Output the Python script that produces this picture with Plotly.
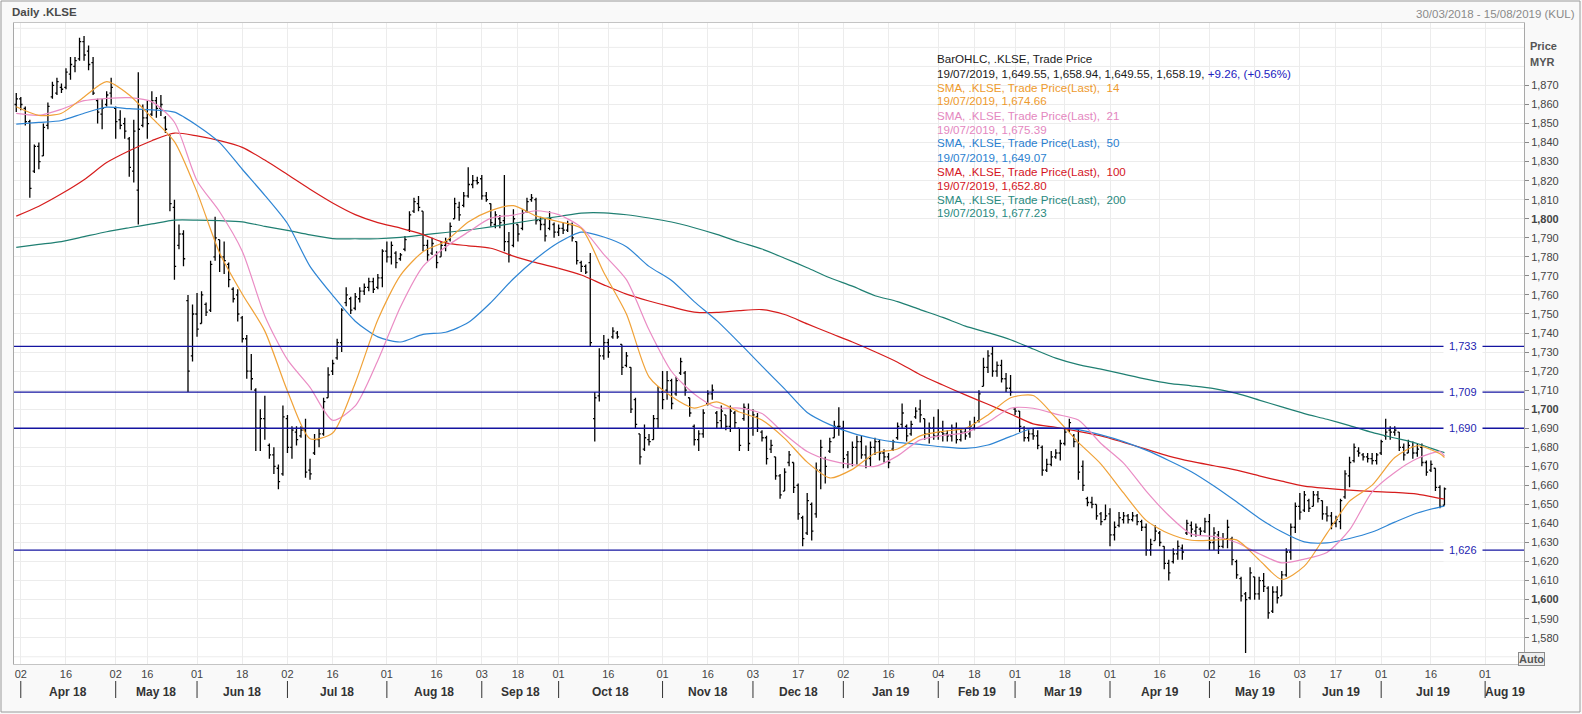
import pandas as pd
import plotly.graph_objects as go

# ---------------- data ----------------
holidays = ["2018-05-01", "2018-05-09", "2018-05-10", "2018-05-11", "2018-05-29", "2018-06-15",
            "2018-08-22", "2018-08-31", "2018-09-10", "2018-09-11", "2018-09-17", "2018-11-06",
            "2018-11-20", "2018-12-25", "2019-01-01", "2019-01-21", "2019-02-01", "2019-02-05",
            "2019-02-06", "2019-05-01", "2019-05-20", "2019-05-22", "2019-06-05", "2019-06-06"]

opens = [1860,1863,1858,1851,1825,1838,1833,1849,1864,1866,1869,1869,1876,1880,1884,1893,1888,1882,1862,1855,
         1860,1866,1858,1852,1850,1842,1825,1815,1849,1853,1855,1862,1858,1853,1844,1806,1786,1792,1757,1728,
         1750,1745,1755,1752,1780,1789,1780,1776,1763,1760,1748,1737,1720,1710,1690,1695,1681,1676,1669,1666,
         1695,1680,1688,1686,1689,1668,1677,1684,1687,1706,1720,1727,1735,1756,1758,1753,1758,1762,1764,1767,
         1764,1769,1783,1780,1782,1779,1784,1794,1804,1808,1804,1786,1782,1781,1780,1786,1789,1800,1806,1807,
         1812,1818,1820,1821,1812,1808,1797,1800,1799,1788,1786,1797,1795,1804,1810,1810,1799,1797,1795,1797,
         1793,1795,1794,1797,1788,1777,1775,1777,1695,1707,1728,1735,1738,1740,1734,1723,1722,1705,1687,1679,
         1684,1684,1695,1709,1710,1715,1708,1719,1719,1706,1691,1684,1687,1703,1708,1698,1694,1697,1691,1698,
         1690,1695,1700,1690,1696,1688,1685,1679,1675,1665,1657,1672,1672,1660,1643,1635,1650,1645,1668,1674,
         1678,1685,1691,1690,1676,1671,1680,1683,1676,1674,1680,1683,1677,1675,1679,1685,1692,1691,1687,1696,
         1700,1695,1687,1690,1686,1688,1687,1686,1690,1684,1688,1687,1690,1694,1712,1722,1729,1720,1723,1716,
         1711,1700,1699,1690,1685,1687,1686,1680,1668,1671,1675,1677,1682,1689,1686,1683,1670,1653,1651,1650,
         1645,1642,1645,1634,1639,1642,1644,1642,1644,1641,1638,1626,1631,1635,1628,1619,1620,1624,1627,1635,
         1639,1636,1637,1636,1641,1630,1634,1628,1632,1632,1620,1611,1603,1601,1612,1603,1610,1606,1594,1604,
         1602,1613,1625,1638,1649,1647,1652,1649,1655,1652,1645,1644,1640,1641,1654,1665,1673,1678,1676,1675,
         1674,1673,1677,1686,1689,1688,1688,1680,1677,1680,1677,1680,1672,1668,1669,1659,1649.55]
highs = [1866,1864,1859,1852,1839,1840,1850,1861,1872,1874,1871,1879,1885,1885,1895,1896,1891,1885,1863,1863,
         1867,1874,1859,1857,1853,1843,1852,1877,1860,1862,1867,1864,1865,1854,1844,1810,1797,1794,1760,1755,
         1761,1762,1756,1778,1801,1789,1788,1777,1764,1763,1749,1739,1729,1711,1700,1707,1682,1680,1671,1702,
         1697,1691,1691,1691,1695,1674,1687,1690,1706,1722,1726,1737,1753,1764,1759,1761,1764,1766,1769,1769,
         1771,1784,1788,1788,1783,1782,1791,1804,1811,1812,1804,1789,1790,1783,1788,1790,1798,1811,1809,1814,
         1827,1823,1822,1823,1814,1808,1804,1802,1823,1793,1805,1797,1805,1811,1813,1811,1801,1800,1804,1798,
         1797,1798,1799,1798,1788,1778,1776,1782,1709,1732,1739,1737,1743,1741,1734,1730,1722,1706,1687,1692,
         1687,1697,1712,1720,1720,1716,1717,1727,1720,1706,1692,1689,1700,1710,1713,1699,1702,1697,1702,1699,
         1690,1703,1703,1700,1698,1689,1686,1684,1675,1666,1669,1678,1672,1661,1644,1656,1651,1672,1684,1675,
         1685,1694,1701,1694,1678,1683,1686,1686,1681,1683,1685,1684,1679,1677,1684,1693,1703,1692,1694,1701,
         1705,1695,1693,1696,1700,1694,1689,1692,1693,1690,1690,1694,1696,1710,1727,1731,1733,1725,1726,1719,
         1718,1701,1699,1691,1689,1690,1689,1681,1674,1678,1679,1684,1690,1695,1687,1690,1673,1654,1654,1650,
         1646,1650,1648,1641,1646,1646,1645,1646,1645,1642,1640,1632,1639,1636,1628,1621,1627,1631,1629,1642,
         1641,1640,1638,1643,1645,1638,1636,1635,1642,1633,1621,1612,1604,1617,1612,1612,1614,1607,1607,1607,
         1615,1627,1640,1651,1656,1657,1653,1657,1657,1652,1649,1646,1644,1653,1668,1675,1682,1680,1677,1677,
         1677,1677,1684,1695,1691,1691,1688,1682,1684,1683,1682,1682,1673,1673,1669,1660,1658.94]
lows = [1856,1857,1849,1811,1824,1826,1833,1847,1863,1865,1866,1868,1873,1877,1883,1883,1878,1865,1850,1847,
        1859,1860,1842,1847,1842,1822,1819,1797,1848,1842,1854,1853,1854,1845,1804,1768,1784,1775,1709,1725,
        1738,1745,1749,1751,1778,1772,1771,1764,1756,1746,1735,1716,1710,1678,1678,1684,1674,1666,1658,1665,
        1677,1674,1681,1685,1664,1663,1676,1680,1686,1706,1718,1726,1730,1754,1750,1752,1756,1760,1762,1761,
        1763,1764,1777,1776,1774,1778,1783,1793,1803,1804,1783,1778,1781,1774,1780,1783,1788,1800,1799,1806,
        1811,1816,1818,1810,1809,1796,1795,1795,1783,1777,1785,1788,1794,1803,1809,1797,1794,1788,1794,1790,
        1791,1792,1793,1788,1776,1772,1771,1733,1683,1704,1726,1727,1737,1737,1718,1722,1698,1690,1671,1678,
        1681,1684,1690,1700,1705,1700,1707,1718,1707,1696,1681,1678,1685,1702,1705,1690,1690,1689,1688,1690,
        1678,1694,1678,1686,1688,1683,1671,1677,1663,1653,1657,1670,1656,1642,1628,1634,1631,1643,1658,1661,
        1677,1685,1686,1669,1669,1670,1671,1674,1669,1670,1676,1673,1672,1669,1678,1684,1690,1683,1686,1695,
        1693,1684,1682,1684,1684,1683,1683,1683,1682,1683,1684,1685,1689,1693,1712,1719,1717,1717,1714,1709,
        1707,1697,1688,1683,1683,1684,1679,1665,1667,1670,1674,1673,1681,1688,1680,1663,1657,1649,1648,1642,
        1639,1642,1628,1631,1638,1640,1640,1641,1639,1636,1623,1623,1631,1628,1616,1610,1619,1621,1621,1634,
        1633,1633,1634,1635,1626,1626,1624,1627,1627,1618,1611,1599,1572,1600,1600,1600,1604,1590,1593,1598,
        1602,1612,1621,1635,1642,1646,1646,1649,1651,1642,1641,1637,1638,1637,1653,1659,1672,1675,1673,1672,
        1671,1671,1676,1684,1684,1686,1678,1673,1677,1674,1675,1670,1665,1667,1657,1648,1649.55]
closes = [1863,1860,1851,1816,1838,1830,1848,1859,1870,1872,1868,1877,1881,1883,1893,1886,1881,1866,1856,1858,
          1865,1869,1851,1849,1846,1827,1846,1847,1853,1850,1862,1858,1860,1847,1808,1775,1792,1779,1720,1750,
          1742,1760,1751,1776,1790,1780,1778,1768,1758,1750,1737,1720,1716,1690,1695,1690,1676,1670,1662,1696,
          1680,1689,1684,1689,1667,1666,1684,1687,1704,1718,1724,1735,1752,1760,1752,1759,1762,1764,1767,1763,
          1769,1783,1780,1786,1777,1781,1789,1802,1809,1806,1786,1781,1787,1777,1786,1788,1796,1808,1802,1812,
          1818,1820,1819,1812,1810,1798,1802,1798,1788,1781,1800,1792,1803,1809,1811,1799,1797,1791,1800,1793,
          1795,1794,1797,1790,1778,1775,1772,1735,1706,1728,1735,1730,1741,1738,1722,1728,1700,1692,1675,1685,
          1683,1695,1709,1705,1715,1703,1715,1725,1710,1698,1684,1687,1698,1708,1710,1693,1699,1691,1699,1693,
          1681,1701,1682,1697,1690,1685,1674,1681,1665,1655,1667,1676,1659,1645,1632,1652,1636,1668,1680,1670,
          1683,1691,1691,1674,1671,1680,1683,1676,1674,1680,1683,1677,1675,1672,1683,1691,1698,1686,1692,1699,
          1697,1687,1690,1686,1688,1687,1686,1690,1684,1688,1686,1691,1693,1708,1722,1728,1720,1723,1716,1711,
          1709,1699,1691,1685,1687,1686,1681,1668,1671,1675,1677,1682,1688,1693,1683,1667,1660,1651,1650,1644,
          1641,1644,1634,1638,1643,1644,1642,1644,1641,1638,1626,1629,1636,1630,1619,1614,1624,1628,1625,1640,
          1637,1638,1636,1641,1630,1635,1628,1632,1638,1621,1613,1602,1600,1614,1603,1610,1607,1593,1604,1601,
          1613,1625,1638,1649,1646,1655,1648,1655,1653,1645,1644,1640,1642,1652,1666,1672,1680,1677,1675,1674,
          1673,1676,1683,1688,1688,1689,1680,1676,1681,1677,1679,1672,1667,1671,1659,1648.93,1658.19]

sma_step_sessions = list(range(0, 316, 5)) + [316]
sma14 = [1858.8,1854.3,1855.4,1864.0,1872.0,1865.0,1853.0,1840.5,1814.0,1782.0,1760.5,1741.0,1709.6,1684.5,1687.5,
         1713.8,1747.0,1770.3,1782.7,1788.2,1798.3,1804.3,1806.9,1801.5,1798.5,1795.0,1771.8,1750.0,1717.0,1706.7,
         1700.6,1703.8,1698.5,1694.3,1684.7,1672.2,1663.9,1668.4,1676.9,1679.1,1686.0,1688.4,1689.9,1697.0,1706.0,
         1707.2,1695.5,1682.6,1671.2,1656.0,1641.6,1634.7,1631.2,1631.2,1631.4,1620.9,1610.6,1617.6,1634.8,1651.7,
         1660.1,1674.6,1680.8,1676.6,1674.66]
sma21 = [1855.3,1854.3,1857.5,1862.0,1863.2,1863.6,1861.4,1850.7,1820.0,1803.7,1783.0,1749.0,1726.0,1711.5,1694.2,
         1701.7,1725.6,1753.7,1775.0,1785.2,1793.0,1800.3,1801.9,1804.2,1802.2,1795.5,1781.3,1768.0,1741.7,1719.8,
         1708.0,1700.8,1700.6,1697.7,1687.0,1677.8,1673.1,1670.9,1670.0,1675.5,1683.9,1686.2,1687.7,1693.2,1700.5,
         1700.5,1697.4,1694.3,1682.0,1671.7,1657.0,1644.2,1634.4,1633.2,1630.0,1624.1,1619.3,1621.3,1624.8,1636.6,
         1656.6,1666.8,1674.1,1677.7,1675.39]
sma50 = [1849.7,1850.6,1851.6,1855.4,1858.6,1857.8,1857.2,1856.0,1849.0,1840.0,1826.0,1812.3,1797.5,1775.0,1759.8,
         1746.2,1738.0,1735.3,1739.3,1740.4,1745.5,1756.0,1768.5,1779.0,1787.5,1793.0,1790.4,1785.3,1775.0,1767.6,
         1756.5,1746.5,1734.8,1722.6,1710.7,1698.3,1691.9,1687.4,1684.5,1682.6,1681.5,1680.2,1679.4,1681.2,1685.7,
         1690.0,1690.0,1689.3,1686.5,1683.0,1678.5,1673.1,1667.2,1659.7,1651.4,1642.8,1635.6,1630.3,1629.8,1632.1,
         1635.5,1640.7,1645.5,1648.6,1649.07]
sma100 = [1801.4,1806.6,1813.1,1820.5,1829.5,1835.7,1841.0,1845.0,1843.5,1841.0,1837.5,1830.8,1823.2,1815.5,1808.3,
          1802.2,1798.0,1795.1,1791.7,1787.3,1785.8,1784.5,1780.4,1777.0,1774.0,1770.5,1765.3,1760.4,1756.8,1753.7,
          1751.0,1750.8,1751.8,1752.3,1749.7,1744.8,1740.0,1735.3,1730.2,1724.7,1718.1,1712.7,1707.5,1702.6,1697.5,
          1692.3,1690.5,1688.4,1686.0,1682.6,1679.0,1675.4,1672.6,1670.3,1668.0,1665.0,1662.2,1659.6,1658.4,1657.5,
          1656.8,1656.3,1655.4,1653.2,1652.80]
sma200 = [1785.0,1786.5,1788.0,1790.6,1793.2,1795.3,1797.3,1799.3,1799.3,1799.0,1798.4,1796.0,1793.9,1791.5,1789.6,
          1789.5,1789.5,1790.2,1791.5,1792.8,1794.1,1795.7,1797.6,1799.5,1801.2,1803.0,1803.1,1802.1,1800.4,1798.3,
          1795.3,1791.8,1787.8,1784.1,1779.3,1774.3,1769.0,1764.6,1759.6,1756.5,1752.3,1748.2,1743.6,1740.2,1736.5,
          1731.6,1726.8,1723.4,1721.0,1718.4,1715.8,1713.6,1712.3,1710.8,1708.3,1704.8,1701.2,1697.7,1694.7,1691.4,
          1687.8,1684.9,1682.0,1677.9,1677.23]

levels = [1733, 1709, 1690, 1626]

tick_dates = ["2018-04-02", "2018-04-16", "2018-05-02", "2018-05-16", "2018-06-01", "2018-06-18",
              "2018-07-02", "2018-07-16", "2018-08-01", "2018-08-16", "2018-09-03", "2018-09-18",
              "2018-10-01", "2018-10-16", "2018-11-01", "2018-11-16", "2018-12-03", "2018-12-17",
              "2019-01-02", "2019-01-16", "2019-02-04", "2019-02-18", "2019-03-01", "2019-03-18",
              "2019-04-01", "2019-04-16", "2019-05-02", "2019-05-16", "2019-06-03", "2019-06-17",
              "2019-07-01", "2019-07-16", "2019-08-01"]
month_labels = ["Apr 18", "May 18", "Jun 18", "Jul 18", "Aug 18", "Sep 18", "Oct 18", "Nov 18", "Dec 18",
                "Jan 19", "Feb 19", "Mar 19", "Apr 19", "May 19", "Jun 19", "Jul 19", "Aug 19"]
y_ticks = list(range(1580, 1871, 10))
y_extra_grid = [1570, 1880, 1890, 1900]

for name, arr in [("sma14", sma14), ("sma21", sma21), ("sma50", sma50), ("sma100", sma100), ("sma200", sma200)]:
    if len(arr) != len(sma_step_sessions):
        raise ValueError(f"{name} length {len(arr)} != {len(sma_step_sessions)}")
n = len(closes)
if not (len(opens) == len(highs) == len(lows) == n):
    raise ValueError(f"ohlc lengths {len(opens)} {len(highs)} {len(lows)} {n}")

# ---------------- calendar ----------------
trade_days = [d for d in pd.bdate_range("2018-03-30", "2019-08-15") if d.strftime("%Y-%m-%d") not in holidays]
session = {d.strftime("%Y-%m-%d"): k for k, d in enumerate(trade_days)}
bar_dates = [d.strftime("%d/%m/%Y") for d in trade_days[:n]]
sessions = list(range(n))

FONT = "Liberation Sans"
X_RANGE = [-0.5, 333.6]
# pixel helpers for layout (plot area 14..1524 x 23..664)
PL, PR, PT, PB = 14, 1524, 23, 664
def px_x(p):
    return (p - PL) / (PR - PL)
def px_y(p):
    return (PB - p) / (PB - PT)

fig = go.Figure()

sma_cols = {"14": "#f0a238", "21": "#ea8cc4", "50": "#2e85d4", "100": "#d61c1c", "200": "#1f7f72"}
sma_data = {"14": sma14, "21": sma21, "50": sma50, "100": sma100, "200": sma200}
for key in ["200", "100", "50", "21", "14"]:
    fig.add_trace(go.Scatter(x=sma_step_sessions, y=sma_data[key], mode="lines",
                             line=dict(color=sma_cols[key], width=1.2, shape="spline", smoothing=0.7),
                             hoverinfo="skip"))

fig.add_trace(go.Ohlc(x=sessions, open=opens, high=highs, low=lows, close=closes,
                      increasing=dict(line=dict(color="#000000", width=1.3)),
                      decreasing=dict(line=dict(color="#000000", width=1.3)),
                      tickwidth=0.38, text=bar_dates, hoverinfo="text+y"))

# last-value markers at right edge
mk_vals = [sma200[-1], sma21[-1], sma14[-1], closes[-1], sma100[-1], sma50[-1]]
mk_cols = [sma_cols["200"], sma_cols["21"], sma_cols["14"], "#000000", "#e00000", "#1e88e5"]
fig.add_trace(go.Scatter(x=[X_RANGE[1] + 0.85] * len(mk_vals), y=mk_vals, mode="markers",
                         marker=dict(symbol="diamond", size=8, color=mk_cols), cliponaxis=False,
                         hoverinfo="skip"))

shapes = []
for v in y_extra_grid:
    shapes.append(dict(type="line", xref="paper", x0=0, x1=1, yref="y", y0=v, y1=v,
                       line=dict(color="#ececec", width=1), layer="below"))
for v in levels:
    shapes.append(dict(type="line", xref="paper", x0=0, x1=1, yref="y", y0=v, y1=v,
                       line=dict(color="#1414a0", width=1.3)))

tick_x = [session[d] for d in tick_dates]
tick_text = [d[-2:] for d in tick_dates]
month_x = tick_x[0::2]
for mx in month_x:
    shapes.append(dict(type="line", xref="x", x0=mx, x1=mx, yref="paper",
                       y0=px_y(681), y1=px_y(698), line=dict(color="#333333", width=1)))
# outer frame
shapes.append(dict(type="rect", xref="paper", yref="paper", x0=px_x(1), x1=px_x(1580),
                   y0=px_y(712), y1=px_y(1), line=dict(color="#9a9a9a", width=1)))

annotations = []
bounds = month_x + [X_RANGE[1]]
for k, lab in enumerate(month_labels):
    annotations.append(dict(x=(bounds[k] + bounds[k + 1]) / 2, xref="x", y=px_y(692), yref="paper",
                            text=f"<b>{lab}</b>", showarrow=False, yanchor="middle",
                            font=dict(family=FONT, size=12, color="#333333")))
for v in levels:
    annotations.append(dict(x=px_x(1483), xref="paper", y=v, yref="y", text=f"{v:,}", showarrow=False,
                            font=dict(family=FONT, size=11, color="#2323b0"), bgcolor="#ffffff",
                            borderpad=5))

# legend text block
last = trade_days[n - 1].strftime("%d/%m/%Y")
chg = closes[-1] - closes[-2]
pct = chg / closes[-2] * 100
lines = [
    ("BarOHLC, .KLSE, Trade Price", "#1a1a1a"),
    (f"{last}, {opens[-1]:,.2f}, {highs[-1]:,.2f}, {lows[-1]:,.2f}, {closes[-1]:,.2f}, "
     f"<span style='color:#2020c0'>{chg:+.2f}, ({pct:+.2f}%)</span>", "#1a1a1a"),
]
leg_cols = {"14": "#ee9a2c", "21": "#e487c0", "50": "#2b7fd0", "100": "#d4141e", "200": "#2a8a80"}
for key in ["14", "21", "50", "100", "200"]:
    lines.append((f"SMA, .KLSE, Trade Price(Last),  {key}", leg_cols[key]))
    lines.append((f"{last}, {sma_data[key][-1]:,.2f}", leg_cols[key]))
for k, (txt, col) in enumerate(lines):
    annotations.append(dict(x=px_x(935), xref="paper", xanchor="left", y=px_y(59 + 14 * k), yref="paper",
                            yanchor="middle", text=txt, showarrow=False,
                            font=dict(family=FONT, size=11.6, color=col)))

annotations += [
    dict(x=px_x(10), xref="paper", xanchor="left", y=px_y(12.5), yref="paper", yanchor="middle",
         text="<b>Daily .KLSE</b>", showarrow=False, font=dict(family=FONT, size=11.5, color="#4a4a4a")),
    dict(x=px_x(1577), xref="paper", xanchor="right", y=px_y(13.5), yref="paper", yanchor="middle",
         text="30/03/2018 - 15/08/2019 (KUL)", showarrow=False,
         font=dict(family=FONT, size=11.5, color="#8a8a8a")),
    dict(x=px_x(1528), xref="paper", xanchor="left", y=px_y(46), yref="paper", yanchor="middle",
         text="<b>Price</b>", showarrow=False, font=dict(family=FONT, size=11, color="#555555")),
    dict(x=px_x(1528), xref="paper", xanchor="left", y=px_y(62), yref="paper", yanchor="middle",
         text="<b>MYR</b>", showarrow=False, font=dict(family=FONT, size=11, color="#555555")),
    dict(x=px_x(1545), xref="paper", y=px_y(659), yref="paper", yanchor="middle",
         text="<b>Auto</b>", showarrow=False, font=dict(family=FONT, size=11, color="#555555"),
         bordercolor="#8a8a8a", borderwidth=1, borderpad=0, bgcolor="#eeeeee"),
]

y_text = []
for v in y_ticks:
    s = f"{v:,}"
    y_text.append(f"<b>{s}</b>" if v % 100 == 0 else s)

fig.update_layout(
    width=1582, height=714, autosize=False,
    margin=dict(l=PL, r=1582 - PR, t=PT, b=714 - PB),
    paper_bgcolor="#f9f9f9", plot_bgcolor="#ffffff",
    showlegend=False, shapes=shapes, annotations=annotations,
    font=dict(family=FONT, size=11, color="#444444"),
    xaxis=dict(range=X_RANGE, tickvals=tick_x, ticktext=tick_text, showgrid=True, gridcolor="#ececec",
               zeroline=False, showline=True, linecolor="#c4c4c4", mirror=True, ticks="",
               rangeslider=dict(visible=False), tickfont=dict(family=FONT, size=11, color="#444444")),
    yaxis=dict(side="right", range=[1566.2, 1902.8], tickvals=y_ticks, ticktext=y_text,
               showgrid=True, gridcolor="#ececec", zeroline=False, showline=True, linecolor="#a8a8a8",
               mirror=True, ticks="outside", ticklen=4, tickcolor="#888888",
               tickfont=dict(family=FONT, size=11, color="#444444")),
)

fig.write_html("out.html")
